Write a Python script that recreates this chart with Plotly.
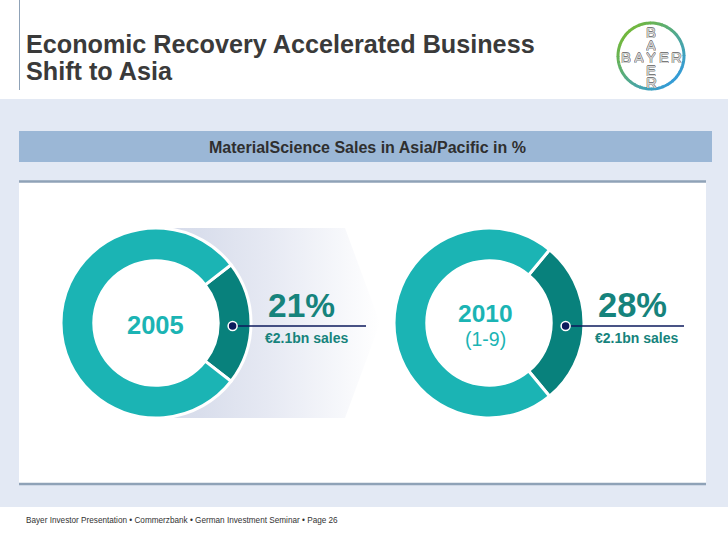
import numpy as np
import plotly.graph_objects as go

# ---------------- data ----------------
years = ["2005", "2010"]
year_sub = ["", "(1-9)"]
asia_share = [21, 28]                       # % of MaterialScience sales in Asia/Pacific
other_share = [100 - v for v in asia_share]
sales_labels = ["€2.1bn sales", "€2.1bn sales"]
slice_labels = ["Asia/Pacific", "Other regions"]

title_lines = ["Economic Recovery Accelerated Business", "Shift to Asia"]
header_text = "MaterialScience Sales in Asia/Pacific in %"
footer_text = "Bayer Investor Presentation • Commerzbank • German Investment Seminar • Page 26"
logo_word = "BAYER"

# ---------------- style ----------------
W, H = 728, 546
LIGHT = "#1bb4b4"
DARK = "#08817c"
TXT_DARK = "#16837c"
NAVY = "#0c1a5c"
BAND = "#e3e9f4"
BAR = "#9bb7d6"
BORDER = "#8fa2b7"
FONT = "Liberation Sans, Arial, sans-serif"

centers = [(156, 323), (489, 323)]
R = 95
HOLE = 0.655

fig = go.Figure()

# gradient arrow behind first donut (left edge hidden inside the ring)
cx0, cy0 = centers[0]
rin = 80
ys = np.linspace(cy0 + rin, cy0 - rin, 41)
arc_x = cx0 + np.sqrt(np.clip(rin**2 - (ys - cy0) ** 2, 0, None))
ax = [cx0, 345, 380, 345, cx0] + list(arc_x) + [cx0]
ay = [228, 228, 323, 418, 418] + list(ys) + [228]
fig.add_trace(go.Scatter(
    x=ax, y=ay, mode="lines", line=dict(width=0), fill="toself",
    fillgradient=dict(type="horizontal",
                      colorscale=[[0, "#d6dbea"], [0.2, "#d9deec"], [0.5, "#e6e9f3"], [1, "#ffffff"]]),
    hoverinfo="skip", showlegend=False))

# donuts
for i, (cx, cy) in enumerate(centers):
    vals = [asia_share[i], other_share[i]]
    rot = 90 - asia_share[i] * 360 / 100 / 2
    fig.add_trace(go.Pie(
        values=vals, labels=slice_labels, sort=False, direction="clockwise",
        rotation=rot, hole=HOLE, textinfo="none", hoverinfo="label+percent",
        marker=dict(colors=[DARK, LIGHT], line=dict(color="white", width=3)),
        domain=dict(x=[(cx - R) / W, (cx + R) / W],
                    y=[1 - (cy + R) / H, 1 - (cy - R) / H]),
        showlegend=False))

shapes = []
shapes.append(dict(type="rect", xref="x", yref="y", x0=0, x1=W, y0=99, y1=507,
                   fillcolor=BAND, line=dict(width=0), layer="below"))
shapes.append(dict(type="rect", xref="x", yref="y", x0=19, x1=712, y0=131, y1=162,
                   fillcolor=BAR, line=dict(width=0), layer="below"))
shapes.append(dict(type="rect", xref="x", yref="y", x0=19, x1=706, y0=181, y1=484,
                   fillcolor="white", line=dict(width=0), layer="below"))
shapes.append(dict(type="line", xref="x", yref="y", x0=19, x1=706, y0=181.5, y1=181.5,
                   line=dict(color=BORDER, width=2.5), layer="below"))
shapes.append(dict(type="line", xref="x", yref="y", x0=19, x1=706, y0=484, y1=484,
                   line=dict(color=BORDER, width=2.5), layer="below"))
shapes.append(dict(type="line", xref="x", yref="y", x0=19.5, x1=19.5, y0=0, y1=90,
                   line=dict(color="#8fa2b7", width=1), layer="below"))

# leader lines and dots
line_end = [366, 684]
for i, (cx, cy) in enumerate(centers):
    dx = cx + (R * (1 + HOLE) / 2) - 2
    dy = cy + 3
    shapes.append(dict(type="line", xref="x", yref="y", x0=dx, x1=line_end[i], y0=dy, y1=dy,
                       line=dict(color=NAVY, width=1.5), layer="above"))
    shapes.append(dict(type="circle", xref="x", yref="y", x0=dx - 4.5, x1=dx + 4.5,
                       y0=dy - 4.5, y1=dy + 4.5, fillcolor=NAVY,
                       line=dict(color="white", width=1.5), layer="above"))

# Bayer logo ring
lx, ly, lr = 651, 56, 33
green = np.array([0x72, 0xb8, 0x3e])
blue = np.array([0x35, 0x9c, 0xd6])
nseg = 36
angs = np.linspace(0, 2 * np.pi, nseg + 1)
for k in range(nseg):
    a0, a1 = angs[k], angs[k + 1]
    am = (a0 + a1) / 2
    t = (1 - np.cos(am - np.radians(135))) / 2
    c = (green * (1 - t) + blue * t).astype(int)
    pts = np.linspace(a0, a1 + 0.02, 5)
    path = "M " + " L ".join(f"{lx + lr*np.cos(a):.2f},{ly - lr*np.sin(a):.2f}" for a in pts)
    shapes.append(dict(type="path", xref="x", yref="y", path=path,
                       line=dict(color=f"rgb({c[0]},{c[1]},{c[2]})", width=3), layer="above"))

ann = []
ann.append(dict(x=24, y=44, text="<b>" + title_lines[0] + "</b>", xanchor="left", yanchor="middle",
                font=dict(family=FONT, size=25.2, color="#3a3a3a")))
ann.append(dict(x=24, y=71, text="<b>" + title_lines[1] + "</b>", xanchor="left", yanchor="middle",
                font=dict(family=FONT, size=25.2, color="#3a3a3a")))
ann.append(dict(x=367, y=147, text="<b>" + header_text + "</b>", xanchor="center", yanchor="middle",
                font=dict(family=FONT, size=16, color="#2f2f2f")))
ann.append(dict(x=24, y=520, text=footer_text, xanchor="left", yanchor="middle",
                font=dict(family=FONT, size=8.2, color="#333333")))

pct_x = [266, 596]
pct_size = [33.5, 34.5]
for i, (cx, cy) in enumerate(centers):
    ann.append(dict(x=pct_x[i], y=305, text=f"<b>{asia_share[i]}%</b>", xanchor="left", yanchor="middle",
                    font=dict(family=FONT, size=pct_size[i], color=TXT_DARK)))
    ann.append(dict(x=pct_x[i] - 3, y=338, text="<b>" + sales_labels[i] + "</b>", xanchor="left",
                    yanchor="middle", font=dict(family=FONT, size=14, color=TXT_DARK)))
    if year_sub[i]:
        ann.append(dict(x=cx - 4, y=313, text="<b>" + years[i] + "</b>", xanchor="center", yanchor="middle",
                        font=dict(family=FONT, size=24.5, color=LIGHT)))
        ann.append(dict(x=cx - 4, y=339, text=year_sub[i], xanchor="center", yanchor="middle",
                        font=dict(family=FONT, size=19.5, color=LIGHT)))
    else:
        ann.append(dict(x=cx - 1, y=325, text="<b>" + years[i] + "</b>", xanchor="center", yanchor="middle",
                        font=dict(family=FONT, size=25.5, color=LIGHT)))

# Bayer letters (horizontal and vertical, sharing the Y)
outline = "-0.6px 0 #7a7a7a, 0.6px 0 #7a7a7a, 0 0.6px #7a7a7a, 0 -0.6px #7a7a7a"
lfont = dict(family=FONT, size=15, color="#d6d6d6", shadow=outline)
step = 12.5
for j, ch in enumerate(logo_word):
    ann.append(dict(x=lx + (j - 2) * step, y=ly + 1, text=ch, xanchor="center", yanchor="middle",
                    font=lfont, height=12))
    if j != 2:
        ann.append(dict(x=lx, y=ly + 1 + (j - 2) * step, text=ch, xanchor="center", yanchor="middle",
                        font=lfont, height=12))

for a in ann:
    a.update(xref="x", yref="y", showarrow=False)

fig.update_layout(
    width=W, height=H, autosize=False,
    margin=dict(l=0, r=0, t=0, b=0),
    paper_bgcolor="white", plot_bgcolor="rgba(0,0,0,0)",
    xaxis=dict(range=[0, W], visible=False, fixedrange=True),
    yaxis=dict(range=[H, 0], visible=False, fixedrange=True),
    shapes=shapes, annotations=ann, showlegend=False,
)

fig.write_html("out.html", post_script="document.body.style.margin='0';",
               config={"displayModeBar": False})
